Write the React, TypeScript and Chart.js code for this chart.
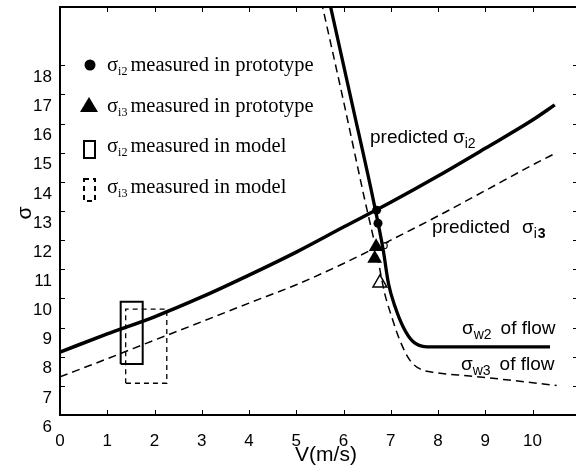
import React, { useEffect, useRef } from "react";
import { Chart, registerables } from "chart.js";
Chart.register(...registerables);

// predicted sigma_i2 (solid)
const predI2V = [0, 1, 2, 3, 4, 5, 6, 7, 8, 9, 10, 10.47];
const predI2S = [8.16, 8.78, 9.37, 10.05, 10.8, 11.59, 12.45, 13.3, 14.2, 15.15, 16.12, 16.64];
// predicted sigma_i3 (dashed)
const predI3V = [0, 1, 2, 3, 4, 5, 6, 7, 8, 9, 10, 10.51];
const predI3S = [7.31, 7.93, 8.57, 9.2, 9.84, 10.47, 11.2, 12.0, 12.83, 13.7, 14.58, 15.0];
// sigma_w2 of flow (solid)
const w2V = [5.7, 6.2, 6.63, 6.84, 6.95, 7.09, 7.26, 7.47, 7.76, 8.5, 10.37];
const w2S = [20.2, 16.55, 13.38, 11.66, 10.52, 9.72, 9.03, 8.52, 8.34, 8.34, 8.34];
// sigma_w3 of flow (dashed)
const w3V = [5.53, 6.0, 6.45, 6.69, 6.87, 7.02, 7.19, 7.4, 7.62, 7.97, 8.67, 9.5, 10.51];
const w3S = [20.2, 16.77, 13.38, 11.66, 10.18, 9.37, 8.57, 7.89, 7.58, 7.45, 7.34, 7.2, 7.01];
// measured in prototype
const protoI2V = [6.7, 6.73];
const protoI2S = [13.03, 12.58];
const protoI3V = [6.69, 6.66];
const protoI3S = [11.77, 11.37];
const openTriV = [6.77];
const openTriS = [10.53];
// measured in model (ranges)
const modelI2V = [1.284, 1.75];
const modelI2S = [7.75, 9.89];
const modelI3V = [1.39, 2.26];
const modelI3S = [7.09, 9.63];
// ticks
const xTickVals = [0, 1, 2, 3, 4, 5, 6, 7, 8, 9, 10];
const yTickVals = [6, 7, 8, 9, 10, 11, 12, 13, 14, 15, 16, 17, 18];

const SANS = '"Liberation Sans", Arial, sans-serif';
const SERIF = '"Liberation Serif", "Times New Roman", serif';

const pts = (xs: number[], ys: number[]) => xs.map((x, i) => ({ x, y: ys[i] }));
const rect = (vx: number[], vy: number[]) => [
  { x: vx[0], y: vy[0] },
  { x: vx[0], y: vy[1] },
  { x: vx[1], y: vy[1] },
  { x: vx[1], y: vy[0] },
  { x: vx[0], y: vy[0] },
];

function drawSub(
  ctx: CanvasRenderingContext2D,
  x: number,
  y: number,
  family: string,
  size: number,
  subSize: number,
  sub: string,
  rest: string,
  restGap: number,
  subBoldLast = false
) {
  ctx.textAlign = "left";
  ctx.textBaseline = "alphabetic";
  ctx.font = `${size}px ${family}`;
  ctx.fillText("σ", x, y);
  let cx = x + ctx.measureText("σ").width;
  ctx.font = `${subSize}px ${family}`;
  if (subBoldLast) {
    const a = sub.slice(0, -1);
    const b = sub.slice(-1);
    ctx.fillText(a, cx, y + subSize * 0.35);
    cx += ctx.measureText(a).width + 1;
    ctx.font = `bold ${subSize}px ${family}`;
    ctx.fillText(b, cx, y + subSize * 0.35);
    cx += ctx.measureText(b).width;
  } else {
    ctx.fillText(sub, cx, y + subSize * 0.35);
    cx += ctx.measureText(sub).width;
  }
  if (rest) {
    ctx.font = `${size}px ${family}`;
    ctx.fillText(rest, cx + restGap, y);
  }
}

const decor = {
  id: "decor",
  afterDraw(chart: any) {
    const { ctx, chartArea: ca, scales } = chart;
    const xs = scales.x;
    const ys = scales.y;
    ctx.save();
    ctx.strokeStyle = "#000";
    ctx.fillStyle = "#000";
    // top border
    ctx.lineWidth = 2;
    ctx.beginPath();
    ctx.moveTo(ca.left, ca.top);
    ctx.lineTo(ca.right, ca.top);
    ctx.stroke();
    // inward tick marks
    ctx.lineWidth = 1;
    for (const v of xTickVals) {
      const px = Math.round(xs.getPixelForValue(v)) + 0.5;
      ctx.beginPath();
      ctx.moveTo(px, ca.bottom);
      ctx.lineTo(px, ca.bottom - 5);
      ctx.moveTo(px, ca.top);
      ctx.lineTo(px, ca.top + 5);
      ctx.stroke();
    }
    for (const v of yTickVals) {
      const py = Math.round(ys.getPixelForValue(v)) + 0.5;
      ctx.beginPath();
      ctx.moveTo(ca.left, py);
      ctx.lineTo(ca.left + 5, py);
      ctx.moveTo(ca.right, py);
      ctx.lineTo(ca.right - 3, py);
      ctx.stroke();
    }

    // legend
    ctx.beginPath();
    ctx.arc(90, 65, 5.5, 0, Math.PI * 2);
    ctx.fill();
    ctx.beginPath();
    ctx.moveTo(89, 97);
    ctx.lineTo(98, 112);
    ctx.lineTo(80, 112);
    ctx.closePath();
    ctx.fill();
    ctx.lineWidth = 2;
    ctx.strokeRect(84, 141, 11, 17);
    ctx.setLineDash([5, 4]);
    ctx.strokeRect(84, 179, 11, 22);
    ctx.setLineDash([]);

    drawSub(ctx, 107, 71, SERIF, 20.5, 12, "i2", "measured in prototype", 3);
    drawSub(ctx, 107, 112, SERIF, 20.5, 12, "i3", "measured in prototype", 3);
    drawSub(ctx, 107, 152, SERIF, 20.5, 12, "i2", "measured in model", 3);
    drawSub(ctx, 107, 193, SERIF, 20.5, 12, "i3", "measured in model", 3);

    // annotations
    ctx.font = `19px ${SANS}`;
    ctx.textBaseline = "alphabetic";
    ctx.fillText("predicted", 370, 143);
    drawSub(ctx, 453, 143, SANS, 19, 14, "i2", "", 0);
    ctx.font = `19px ${SANS}`;
    ctx.fillText("predicted", 432, 233);
    drawSub(ctx, 522, 233, SANS, 19, 14, "i3", "", 0, true);
    drawSub(ctx, 462, 334, SANS, 19, 14, "w2", "of flow", 9);
    drawSub(ctx, 461, 370, SANS, 19, 14, "w3", "of flow", 9);
    ctx.font = `13px ${SANS}`;
    ctx.fillText("σ", 381, 249);

    // axis titles
    ctx.font = `21px ${SANS}`;
    ctx.textAlign = "center";
    ctx.textBaseline = "middle";
    ctx.fillText("V(m/s)", 326, 455);
    ctx.save();
    ctx.translate(25, 213);
    ctx.rotate(-Math.PI / 2);
    ctx.fillText("σ", 0, 0);
    ctx.restore();
    ctx.restore();
  },
};

export default function App() {
  const ref = useRef<HTMLCanvasElement | null>(null);
  useEffect(() => {
    document.body.style.margin = "0";
    const canvas = ref.current!;
    const solid = { borderColor: "#000", backgroundColor: "#000", showLine: true, pointRadius: 0, fill: false };
    const chart = new Chart(canvas, {
      type: "scatter",
      data: {
        datasets: [
          { ...solid, data: pts(predI2V, predI2S), borderWidth: 3.5, cubicInterpolationMode: "monotone" },
          { ...solid, data: pts(predI3V, predI3S), borderWidth: 1.5, borderDash: [8, 5], cubicInterpolationMode: "monotone" },
          { ...solid, data: pts(w2V, w2S), borderWidth: 3.3, cubicInterpolationMode: "monotone" },
          { ...solid, data: pts(w3V, w3S), borderWidth: 1.5, borderDash: [8, 5], cubicInterpolationMode: "monotone" },
          { ...solid, data: rect(modelI2V, modelI2S), borderWidth: 2, tension: 0 },
          { ...solid, data: rect(modelI3V, modelI3S), borderWidth: 1.3, borderDash: [5, 4], tension: 0 },
          {
            data: pts(protoI2V, protoI2S),
            showLine: false,
            pointStyle: "circle",
            pointRadius: 4.5,
            backgroundColor: "#000",
            borderColor: "#000",
            borderWidth: 0,
          },
          {
            data: pts(protoI3V, protoI3S),
            showLine: false,
            pointStyle: "triangle",
            pointRadius: 8.5,
            backgroundColor: "#000",
            borderColor: "#000",
            borderWidth: 0,
          },
          {
            data: pts(openTriV, openTriS),
            showLine: false,
            pointStyle: "triangle",
            pointRadius: 8,
            backgroundColor: "rgba(255,255,255,0)",
            borderColor: "#000",
            borderWidth: 1.5,
          },
        ],
      },
      options: {
        animation: false,
        responsive: false,
        devicePixelRatio: 1,
        layout: { autoPadding: false, padding: { top: 7, right: 0, left: 0, bottom: 0 } },
        plugins: { legend: { display: false }, tooltip: { enabled: false } },
        elements: { point: { hoverRadius: 0 } },
        scales: {
          x: {
            type: "linear",
            min: 0,
            max: 10.92,
            afterFit: (s: any) => {
              s.height = 57;
              s.paddingLeft = 0;
              s.paddingRight = 0;
            },
            grid: { display: false, drawTicks: false },
            border: { display: true, color: "#000", width: 2 },
            ticks: {
              stepSize: 1,
              includeBounds: false,
              color: "#000",
              padding: 16,
              font: { family: SANS, size: 17 },
            },
          },
          y: {
            type: "linear",
            min: 6,
            max: 20,
            afterFit: (s: any) => {
              s.width = 60;
              s.paddingTop = 0;
              s.paddingBottom = 0;
            },
            grid: { display: false, drawTicks: false },
            border: { display: true, color: "#000", width: 2 },
            ticks: {
              stepSize: 1,
              color: "#000",
              padding: 8,
              labelOffset: 12,
              font: { family: SANS, size: 17 },
              callback: (v: any) => (v <= 18 ? String(v) : ""),
            },
          },
        },
      },
      plugins: [decor],
    } as any);
    return () => chart.destroy();
  }, []);
  return (
    <div style={{ position: "absolute", left: 0, top: 0, width: 576, height: 472, background: "#fff" }}>
      <canvas ref={ref} width={576} height={472} style={{ width: 576, height: 472, display: "block" }} />
    </div>
  );
}
